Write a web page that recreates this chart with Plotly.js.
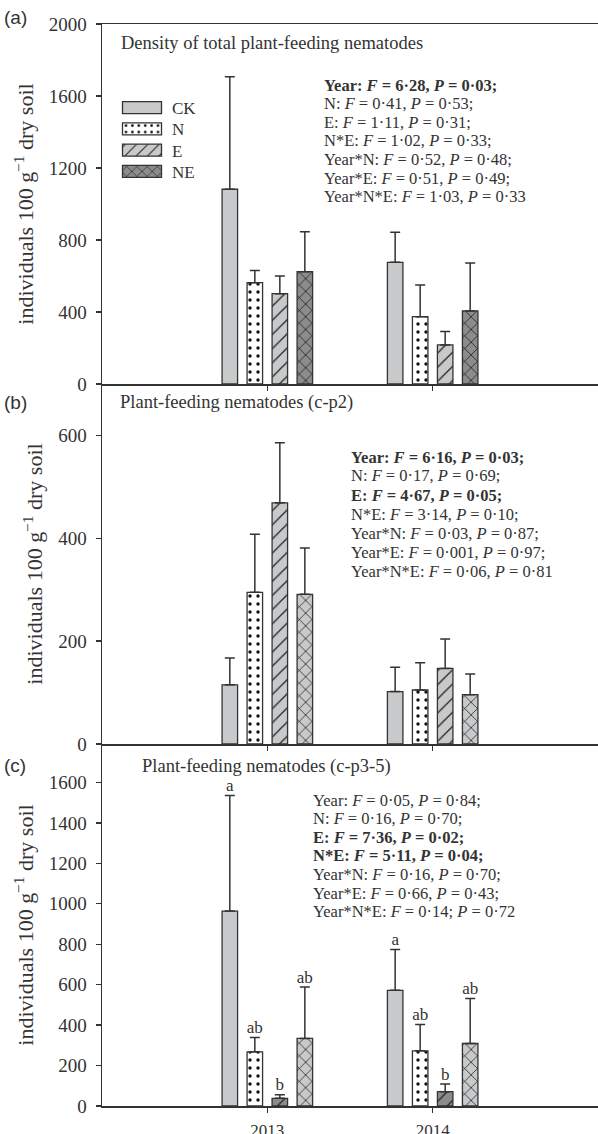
<!DOCTYPE html>
<html>
<head>
<meta charset="utf-8">
<script src="https://cdn.plot.ly/plotly-3.0.1.min.js"></script>
<style>html,body{margin:0;padding:0;background:#fff;}#chart{width:598px;height:1134px;}</style>
</head>
<body>
<div id="chart"></div>
<script>
// ---------- data ----------
var years = ['2013', '2014'];
var treatments = ['CK', 'N', 'E', 'NE'];

// Panel (a): density of total plant-feeding nematodes
var aCK = [1082, 676], aN = [563, 374], aE = [502, 217], aNE = [624, 406];
var aCKerr = [625, 167], aNerr = [67, 176], aEerr = [98, 74], aNEerr = [222, 266];

// Panel (b): plant-feeding nematodes (c-p2)
var bCK = [115, 102], bN = [295, 105], bE = [469, 147], bNE = [291, 96];
var bCKerr = [52, 47], bNerr = [113, 53], bEerr = [117, 57], bNEerr = [90, 40];

// Panel (c): plant-feeding nematodes (c-p3-5)
var cCK = [964, 572], cN = [268, 273], cE = [38, 71], cNE = [334, 309];
var cCKerr = [571, 202], cNerr = [71, 130], cEerr = [18, 38], cNEerr = [255, 223];
var cCKlet = ['a', 'a'], cNlet = ['ab', 'ab'], cElet = ['b', 'b'], cNElet = ['ab', 'ab'];

var statsA = [
  '<b>Year: <i>F</i> = 6·28, <i>P</i> = 0·03;</b>',
  'N: <i>F</i> = 0·41, <i>P</i> = 0·53;',
  'E: <i>F</i> = 1·11, <i>P</i> = 0·31;',
  'N*E: <i>F</i> = 1·02, <i>P</i> = 0·33;',
  'Year*N: <i>F</i> = 0·52, <i>P</i> = 0·48;',
  'Year*E: <i>F</i> = 0·51, <i>P</i> = 0·49;',
  'Year*N*E: <i>F</i> = 1·03, <i>P</i> = 0·33'
];
var statsB = [
  '<b>Year: <i>F</i> = 6·16, <i>P</i> = 0·03;</b>',
  'N: <i>F</i> = 0·17, <i>P</i> = 0·69;',
  '<b>E: <i>F</i> = 4·67, <i>P</i> = 0·05;</b>',
  'N*E: <i>F</i> = 3·14, <i>P</i> = 0·10;',
  'Year*N: <i>F</i> = 0·03, <i>P</i> = 0·87;',
  'Year*E: <i>F</i> = 0·001, <i>P</i> = 0·97;',
  'Year*N*E: <i>F</i> = 0·06, <i>P</i> = 0·81'
];
var statsC = [
  'Year: <i>F</i> = 0·05, <i>P</i> = 0·84;',
  'N: <i>F</i> = 0·16, <i>P</i> = 0·70;',
  '<b>E: <i>F</i> = 7·36, <i>P</i> = 0·02;</b>',
  '<b>N*E: <i>F</i> = 5·11, <i>P</i> = 0·04;</b>',
  'Year*N: <i>F</i> = 0·16, <i>P</i> = 0·70;',
  'Year*E: <i>F</i> = 0·66, <i>P</i> = 0·43;',
  'Year*N*E: <i>F</i> = 0·14; <i>P</i> = 0·72'
];

// ---------- styling ----------
var SERIF = 'Liberation Serif';
var SANS = 'Liberation Sans';
var INK = '#333333';
var LIGHT = '#c8c9cb';
var DARK = '#8c8c8c';

var W = 598, H = 1134, ML = 102, MR = 0, MT = 24, MB = 28;
var PH = H - MT - MB;
function py(px) { return 1 - (px - MT) / PH; }
function pxX(px) { return (px - ML) / (W - ML - MR); }

function patternFor(t, bg) {
  if (t === 'CK') return {shape: ''};
  if (t === 'N') return {shape: '.', bgcolor: '#ffffff', fgcolor: '#111111', size: 8, solidity: 0.14, fillmode: 'replace'};
  if (t === 'E') return {shape: '/', bgcolor: bg, fgcolor: '#222222', size: 10, solidity: 0.13, fillmode: 'replace'};
  return {shape: 'x', bgcolor: bg, fgcolor: '#111111', size: 9, solidity: 0.15, fillmode: 'replace'};
}

var panels = [
  {xa: 'x', ya: 'y', means: [aCK, aN, aE, aNE], errs: [aCKerr, aNerr, aEerr, aNEerr],
   colors: [LIGHT, '#ffffff', LIGHT, DARK], legend: true, letters: null},
  {xa: 'x2', ya: 'y2', means: [bCK, bN, bE, bNE], errs: [bCKerr, bNerr, bEerr, bNEerr],
   colors: [LIGHT, '#ffffff', LIGHT, LIGHT], legend: false, letters: null},
  {xa: 'x3', ya: 'y3', means: [cCK, cN, cE, cNE], errs: [cCKerr, cNerr, cEerr, cNEerr],
   colors: [LIGHT, '#ffffff', DARK, LIGHT], legend: false, letters: [cCKlet, cNlet, cElet, cNElet]}
];

var traces = [];
panels.forEach(function (p, pi) {
  treatments.forEach(function (t, ti) {
    traces.push({
      type: 'bar', name: t, x: years, y: p.means[ti],
      xaxis: p.xa, yaxis: p.ya,
      offsetgroup: t, alignmentgroup: 'g' + pi,
      legendgroup: t, showlegend: p.legend,
      marker: {color: p.colors[ti], line: {color: INK, width: 1.3}, pattern: patternFor(t, p.colors[ti])},
      error_y: {type: 'data', array: p.errs[ti], arrayminus: [0, 0], symmetric: false,
                color: INK, thickness: 1.5, width: 5},
      hoverinfo: 'skip'
    });
  });
  if (p.letters) {
    treatments.forEach(function (t, ti) {
      traces.push({
        type: 'scatter', mode: 'text', x: years,
        y: p.means[ti].map(function (v, i) { return v + p.errs[ti][i]; }),
        text: p.letters[ti], textposition: 'top center',
        textfont: {family: SERIF, size: 17, color: INK},
        xaxis: p.xa, yaxis: p.ya, offsetgroup: t, alignmentgroup: 'g' + pi,
        showlegend: false, hoverinfo: 'skip', cliponaxis: false
      });
    });
  }
});

function xax(anchor, showLabels, mirror) {
  return {
    anchor: anchor, type: 'category', range: [-1, 2], fixedrange: true,
    showline: true, linecolor: INK, linewidth: 1.5, mirror: mirror,
    ticks: 'outside', ticklen: 5, tickwidth: 1.3, tickcolor: INK,
    showticklabels: showLabels, showgrid: false, zeroline: false,
    tickfont: {family: SERIF, size: 17, color: INK}, ticklabelstandoff: 3
  };
}
function yax(anchor, domain, range, tickvals) {
  return {
    anchor: anchor, domain: domain, range: range, tickvals: tickvals, fixedrange: true,
    showline: true, linecolor: INK, linewidth: 1.5,
    ticks: 'outside', ticklen: 5, tickwidth: 1.3, tickcolor: INK,
    showgrid: false, zeroline: false,
    tickfont: {family: SERIF, size: 19, color: INK}, ticklabelstandoff: 5,
    title: {text: 'individuals 100 g<sup>−1</sup> dry soil', font: {family: SERIF, size: 22, color: INK}, standoff: 9}
  };
}

var dA = [(1106 - 384) / PH, 1];
var dB = [(1106 - 744) / PH, (1106 - 384) / PH];
var dC = [0, (1106 - 744) / PH];

var annotations = [];
function addText(txt, xpx, ypx, size, family) {
  annotations.push({xref: 'paper', yref: 'paper', x: pxX(xpx), y: py(ypx),
    xanchor: 'left', yanchor: 'middle', showarrow: false, align: 'left',
    text: txt, font: {family: family || SERIF, size: size, color: INK}});
}
addText('(a)', 2, 17, 19, SANS);
addText('(b)', 2, 402, 19, SANS);
addText('(c)', 2, 765, 19, SANS);
addText('Density of total plant-feeding nematodes', 119, 43, 18.5);
addText('Plant-feeding nematodes (c-p2)', 118, 402, 18.5);
addText('Plant-feeding nematodes (c-p3-5)', 140, 766, 18.5);
statsA.forEach(function (s, i) { addText(s, 322, 85 + i * 18.6, 16.5); });
statsB.forEach(function (s, i) { addText(s, 349, 457 + i * 19, 16.5); });
statsC.forEach(function (s, i) { addText(s, 311, 800 + i * 18.6, 16.5); });

var layout = {
  width: W, height: H,
  font: {family: SERIF, color: INK},
  margin: {l: ML, r: MR, t: MT, b: MB, autoexpand: false},
  paper_bgcolor: '#ffffff', plot_bgcolor: '#ffffff',
  barmode: 'group', bargap: 0.395, bargroupgap: 0.38,
  scattermode: 'group', scattergap: 0.395,
  showlegend: true,
  legend: {x: pxX(112), y: py(90), xanchor: 'left', yanchor: 'top',
           bgcolor: 'rgba(0,0,0,0)', borderwidth: 0, itemwidth: 50,
           font: {family: SERIF, size: 17, color: INK}, tracegroupgap: 0,
           itemclick: false, itemdoubleclick: false},
  xaxis: xax('y', false, true),
  xaxis2: xax('y2', false, false),
  xaxis3: xax('y3', true, false),
  yaxis: yax('x', dA, [0, 2000], [0, 400, 800, 1200, 1600, 2000]),
  yaxis2: yax('x2', dB, [0, 700], [0, 200, 400, 600]),
  yaxis3: yax('x3', dC, [0, 1790], [0, 200, 400, 600, 800, 1000, 1200, 1400, 1600]),
  annotations: annotations
};

// widen the legend swatches and tighten the row spacing to match the original figure
function styleLegend() {
  document.querySelectorAll('.legend .legendpoints path').forEach(function (p) {
    p.setAttribute('d', 'M19.5,6H-19.5V-6H19.5Z');
  });
  var items = document.querySelectorAll('.legend .traces');
  if (!items.length) return;
  var m = /translate\(\s*([-\d.]+)[ ,]+([-\d.]+)/.exec(items[0].getAttribute('transform') || '');
  var x0 = m ? parseFloat(m[1]) : 0, y0 = m ? parseFloat(m[2]) : 0;
  items.forEach(function (el, i) {
    el.setAttribute('transform', 'translate(' + x0 + ',' + (y0 + i * 21.3) + ')');
  });
}
Plotly.newPlot('chart', traces, layout, {staticPlot: true, displayModeBar: false}).then(function (gd) {
  styleLegend();
  gd.on('plotly_afterplot', styleLegend);
});
</script>
</body>
</html>
